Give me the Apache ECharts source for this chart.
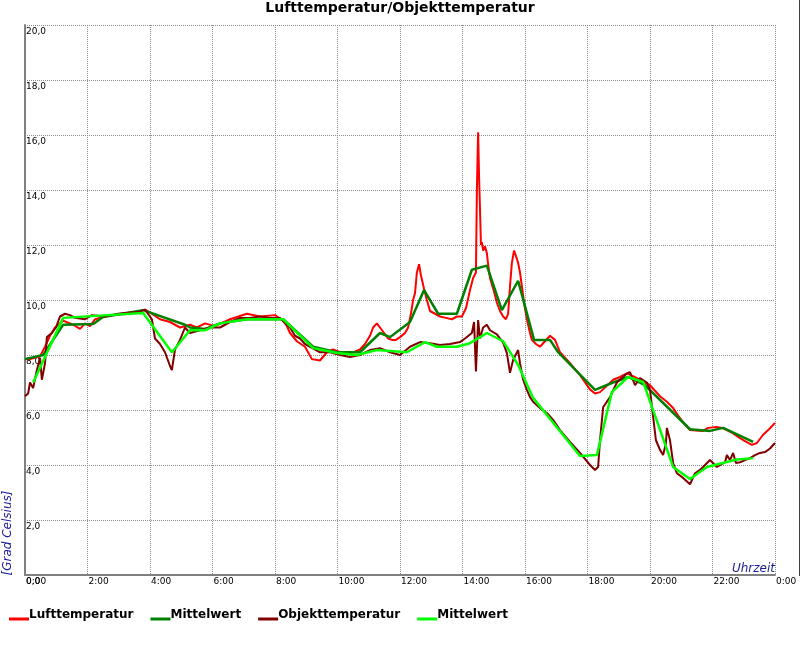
<!DOCTYPE html>
<html>
<head>
<meta charset="utf-8">
<script src="https://cdn.jsdelivr.net/npm/echarts@6/dist/echarts.min.js"></script>
<style>html,body{margin:0;padding:0;background:#fff;}#chart{width:800px;height:650px;}</style>
</head>
<body>
<div id="chart"></div>
<script>
// Zeit in Stunden (0..24)
const luftZeit = [
  0, 0.16, 0.32, 0.48, 0.64, 0.8, 0.96, 1.22, 1.54, 1.76,
  1.92, 2.08, 2.24, 2.72, 3.36, 3.84, 4.0, 4.32, 4.64, 4.96,
  5.28, 5.5, 5.76, 6.08, 6.56, 7.1, 7.52, 8.0, 8.32, 8.48,
  8.7, 8.96, 9.18, 9.44, 9.66, 9.86, 10.08, 10.4, 10.72, 10.88,
  11.04, 11.14, 11.26, 11.36, 11.49, 11.62, 11.74, 11.87, 12.0, 12.16,
  12.26, 12.35, 12.42, 12.48, 12.54, 12.61, 12.67, 12.77, 12.86, 12.96,
  13.12, 13.28, 13.47, 13.66, 13.82, 13.98, 14.11, 14.24, 14.34, 14.43,
  14.46, 14.5, 14.53, 14.56, 14.59, 14.62, 14.66, 14.72, 14.78, 14.82,
  14.88, 15.01, 15.1, 15.2, 15.3, 15.39, 15.46, 15.52, 15.58, 15.65,
  15.71, 15.78, 15.84, 15.9, 15.97, 16.06, 16.16, 16.22, 16.35, 16.48,
  16.64, 16.8, 16.96, 17.12, 17.44, 17.76, 18.08, 18.24, 18.4, 18.59,
  18.82, 19.04, 19.26, 19.42, 19.68, 20.0, 20.32, 20.54, 20.74, 20.9,
  21.06, 21.28, 21.47, 21.7, 21.86, 22.14, 22.3, 22.46, 22.66, 22.88,
  23.07, 23.26, 23.42, 23.62, 23.81, 24.0
];
const luftWerte = [
  7.85, 7.85, 7.9, 7.95, 8.3, 8.7, 9.0, 9.25, 9.1, 8.95,
  9.15, 9.05, 9.3, 9.45, 9.5, 9.65, 9.55, 9.3, 9.2, 9.0,
  9.1, 9.0, 9.15, 9.05, 9.3, 9.5, 9.4, 9.45, 9.2, 8.8,
  8.5, 8.3, 7.85, 7.8, 8.1, 8.2, 8.1, 8.05, 8.2, 8.4,
  8.7, 9.0, 9.15, 9.0, 8.8, 8.6, 8.55, 8.55, 8.65, 8.8,
  9.0, 9.5, 10.0, 10.25, 11.0, 11.3, 10.9, 10.4, 10.0, 9.6,
  9.5, 9.4, 9.35, 9.3, 9.4, 9.4, 9.7, 10.36, 10.8, 11.0,
  14.0, 16.1, 14.5, 13.3, 12.0, 12.1, 11.8, 11.95, 11.7, 11.3,
  10.8, 10.3, 9.9, 9.6, 9.4, 9.3, 9.5, 10.5, 11.35, 11.8,
  11.6, 11.35, 11.0, 10.5, 9.9, 9.3, 8.8, 8.55, 8.4, 8.3,
  8.5, 8.7, 8.55, 8.1, 7.7, 7.27, 6.75, 6.6, 6.65, 6.85,
  7.1, 7.2, 7.33, 7.25, 7.1, 6.9, 6.5, 6.3, 6.07, 5.8,
  5.56, 5.27, 5.25, 5.24, 5.35, 5.38, 5.35, 5.27, 5.15, 4.98,
  4.85, 4.73, 4.8, 5.1, 5.3, 5.53
];

const luftMittelZeit = [
  0, 0.58, 1.22, 2.18, 2.5, 3.78, 5.12, 5.28, 5.76, 6.24,
  7.1, 8.26, 9.22, 9.98, 10.72, 11.36, 11.68, 12.32, 12.77, 13.22,
  13.82, 14.3, 14.78, 15.26, 15.78, 16.29, 16.8, 17.06, 18.24, 18.82,
  19.3, 19.84, 21.28, 21.92, 22.34, 23.3
];
const luftMittelWerte = [
  7.85, 8.0, 9.1, 9.13, 9.38, 9.63, 9.1, 9.0, 8.95, 9.15,
  9.3, 9.3, 8.3, 8.1, 8.1, 8.8, 8.65, 9.2, 10.36, 9.5,
  9.5, 11.1, 11.25, 9.63, 10.7, 8.55, 8.55, 8.1, 6.73, 7.0,
  7.2, 6.9, 5.3, 5.24, 5.35, 4.84
];

const objektZeit = [
  0, 0.1, 0.16, 0.26, 0.38, 0.48, 0.54, 0.64, 0.7, 0.86,
  0.99, 1.12, 1.28, 1.44, 1.6, 1.92, 2.14, 2.56, 2.98, 3.36,
  3.62, 3.84, 4.06, 4.16, 4.32, 4.48, 4.64, 4.7, 4.8, 4.96,
  5.12, 5.28, 5.6, 5.92, 6.24, 6.56, 6.88, 7.2, 7.52, 7.84,
  8.16, 8.32, 8.48, 8.64, 8.8, 8.96, 9.12, 9.28, 9.44, 9.76,
  10.08, 10.4, 10.72, 11.04, 11.36, 11.68, 12.0, 12.32, 12.64, 12.96,
  13.28, 13.6, 13.92, 14.08, 14.3, 14.37, 14.43, 14.5, 14.56, 14.66,
  14.78, 14.88, 15.1, 15.3, 15.42, 15.52, 15.62, 15.78, 15.84, 15.94,
  16.06, 16.16, 16.26, 16.48, 16.7, 16.9, 17.12, 17.44, 17.76, 18.08,
  18.24, 18.34, 18.4, 18.5, 18.72, 18.94, 19.26, 19.36, 19.52, 19.68,
  19.9, 20.0, 20.1, 20.19, 20.32, 20.42, 20.51, 20.54, 20.64, 20.74,
  20.86, 21.06, 21.28, 21.44, 21.6, 21.76, 21.92, 22.14, 22.4, 22.46,
  22.56, 22.66, 22.75, 22.88, 23.04, 23.2, 23.36, 23.52, 23.68, 23.84,
  24.0
];
const objektWerte = [
  6.5, 6.6, 7.0, 6.8, 7.45, 7.9, 7.1, 7.7, 8.65, 8.8,
  9.0, 9.4, 9.5, 9.45, 9.35, 9.3, 9.45, 9.4, 9.5, 9.55,
  9.56, 9.65, 9.3, 8.6, 8.4, 8.1, 7.6, 7.45, 8.2, 8.55,
  9.0, 8.8, 8.9, 9.0, 9.0, 9.2, 9.35, 9.35, 9.4, 9.35,
  9.35, 9.15, 9.0, 8.7, 8.6, 8.4, 8.3, 8.2, 8.1, 8.1,
  8.0, 7.93, 8.0, 8.18, 8.25, 8.1, 8.0, 8.3, 8.47, 8.43,
  8.36, 8.4, 8.47, 8.6, 8.8, 9.2, 7.4, 9.27, 8.6, 9.0,
  9.1, 8.9, 8.75, 8.45, 8.07, 7.35, 7.82, 8.18, 7.7, 7.1,
  6.73, 6.47, 6.3, 6.07, 5.89, 5.64, 5.27, 4.84, 4.44, 4.0,
  3.82, 3.93, 4.9, 6.1, 6.47, 7.0, 7.33, 7.38, 6.9, 7.16,
  7.0, 6.73, 5.75, 4.9, 4.55, 4.36, 4.8, 5.35, 4.9, 4.07,
  3.7, 3.53, 3.3, 3.7, 3.82, 4.0, 4.18, 3.93, 4.1, 4.36,
  4.18, 4.44, 4.07, 4.1, 4.18, 4.25, 4.36, 4.44, 4.47, 4.6,
  4.8
];

const objektMittelZeit = [
  0.26, 1.22, 3.78, 4.7, 5.28, 5.76, 6.24, 7.1, 8.26, 9.22,
  9.98, 10.62, 11.26, 12.22, 12.8, 13.18, 13.82, 14.24, 14.78, 15.3,
  15.78, 16.26, 17.76, 18.3, 18.78, 19.3, 19.78, 20.74, 21.28, 21.82,
  22.78, 23.3
];
const objektMittelWerte = [
  7.0, 9.35, 9.53, 8.1, 8.9, 8.9, 9.15, 9.3, 9.3, 8.25,
  8.07, 8.0, 8.18, 8.1, 8.47, 8.3, 8.3, 8.43, 8.8, 8.5,
  7.64, 6.44, 4.33, 4.36, 6.65, 7.2, 7.02, 3.93, 3.49, 3.93,
  4.2, 4.25
];

const reihenNamen = ['Lufttemperatur', 'Mittelwert', 'Objekttemperatur', 'Mittelwert '];
const reihenFarben = ['#ff0000', '#008000', '#800000', '#00ff00'];

function paare(z, w) { return z.map((t, i) => [t, w[i]]); }

const FONT = 'DejaVu Sans';
const chart = echarts.init(document.getElementById('chart'), null, { renderer: 'canvas' });

function linie(name, farbe, z, w, breite) {
  return {
    name: name, type: 'line', data: paare(z, w), showSymbol: false, symbol: 'none',
    lineStyle: { color: farbe, width: breite }, itemStyle: { color: farbe },
    animation: false, silent: true
  };
}

chart.setOption({
  animation: false,
  backgroundColor: '#ffffff',
  title: {
    text: 'Lufttemperatur/Objekttemperatur', left: 'center', top: 1, padding: 0,
    textStyle: { fontFamily: FONT, fontSize: 14, fontWeight: 'bold', color: '#000' }
  },
  legend: {
    left: 9, top: 609, padding: 0, itemGap: 17, itemWidth: 20, itemHeight: 11,
    icon: 'path://M0,0H20V0.01H0Z M0,8H20V11H0Z',
    formatter: n => n.trim(),
    textStyle: { fontFamily: FONT, fontSize: 12, fontWeight: 'bold', color: '#000', padding: [0, 0, 0, -5] },
    data: reihenNamen
  },
  grid: { left: 25, right: 25, top: 25, bottom: 75, containLabel: false },
  xAxis: {
    type: 'value', min: 0, max: 24, interval: 2,
    axisLine: { show: true, onZero: false, lineStyle: { color: '#808080', width: 2 } },
    axisTick: { show: false },
    axisLabel: {
      formatter: v => (v % 24) + ':00', align: 'left', margin: 2, padding: [0, 0, 0, 1],
      fontFamily: FONT, fontSize: 9, color: '#000', showMinLabel: true, showMaxLabel: true
    },
    splitLine: { show: true, lineStyle: { color: '#8c8c8c', width: 1, type: [1, 1] } }
  },
  yAxis: {
    type: 'value', min: 0, max: 20, interval: 2,
    axisLine: { show: true, onZero: false, lineStyle: { color: '#808080', width: 2 } },
    axisTick: { show: false },
    axisLabel: {
      inside: true, margin: 1, verticalAlign: 'top', padding: [2, 0, 0, 0],
      formatter: v => v.toFixed(1).replace('.', ','),
      fontFamily: FONT, fontSize: 9, color: '#000'
    },
    splitLine: { show: true, lineStyle: { color: '#8c8c8c', width: 1, type: [1, 1] } }
  },
  graphic: [
    {
      type: 'text', x: 8, y: 533, rotation: Math.PI / 2,
      style: { text: '[Grad Celsius]', font: 'italic 12px "DejaVu Sans"', fill: '#1a1a9a', align: 'center', verticalAlign: 'middle' }
    },
    {
      type: 'text', x: 775, y: 575,
      style: { text: 'Uhrzeit', font: 'italic 12px "DejaVu Sans"', fill: '#1a1a9a', align: 'right', verticalAlign: 'bottom' }
    },
    {
      type: 'line', shape: { x1: 799.5, y1: 0, x2: 799.5, y2: 576 },
      style: { stroke: '#404040', lineWidth: 1 }
    }
  ],
  series: [
    linie(reihenNamen[0], reihenFarben[0], luftZeit, luftWerte, 2),
    linie(reihenNamen[1], reihenFarben[1], luftMittelZeit, luftMittelWerte, 2.5),
    linie(reihenNamen[2], reihenFarben[2], objektZeit, objektWerte, 2),
    linie(reihenNamen[3], reihenFarben[3], objektMittelZeit, objektMittelWerte, 2.5)
  ]
});
</script>
</body>
</html>
